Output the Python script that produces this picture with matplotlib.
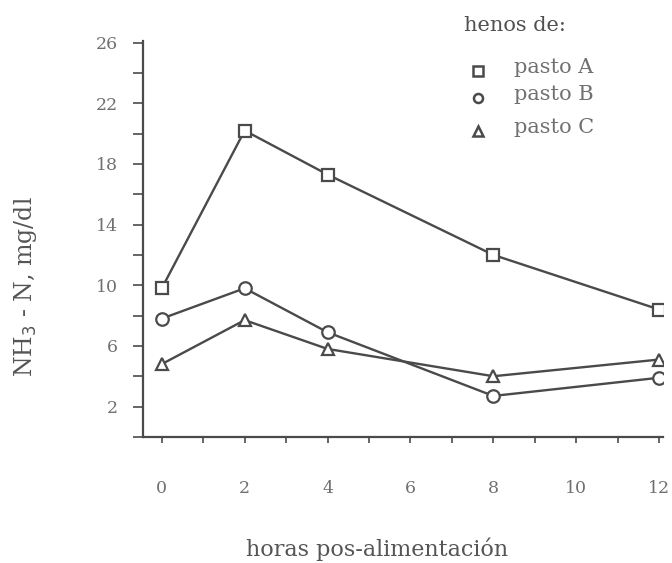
import matplotlib
matplotlib.use('Agg')
import matplotlib.pyplot as plt
from matplotlib.lines import Line2D

horas = [0, 2, 4, 8, 12]
pasto_a = [9.8, 20.2, 17.3, 12.0, 8.4]
pasto_b = [7.8, 9.8, 6.9, 2.7, 3.9]
pasto_c = [4.8, 7.7, 5.8, 4.0, 5.1]
series = [('pasto A', pasto_a, 's'), ('pasto B', pasto_b, 'o'), ('pasto C', pasto_c, '^')]

x_labels = [0, 2, 4, 6, 8, 10, 12]
y_labels = [2, 6, 10, 14, 18, 22, 26]

plt.rcParams['font.family'] = ['DejaVu Serif']
ink = '#4a4a4a'
soft = '#707070'

fig = plt.figure(figsize=(6.72, 5.63), dpi=100)
ax = fig.add_axes([0.213, 0.224, 0.774, 0.703])

for name, vals, mk in series:
    ax.plot(horas, vals, color=ink, lw=1.7, marker=mk, ms=9 if mk != '^' else 8.5,
            mfc='white', mec=ink, mew=1.6, zorder=3)

ax.set_xlim(-0.45, 12.1)
ax.set_ylim(0, 26.1)
ax.set_xticks(x_labels)
ax.set_xticks(range(0, 13), minor=True)
ax.set_yticks(y_labels)
ax.set_yticks(range(0, 27, 2), minor=True)
ax.tick_params(which='both', direction='out', color=ink, width=1.2)
ax.tick_params(axis='y', which='both', length=7, pad=11, labelsize=12.5, labelcolor=soft)
ax.tick_params(axis='x', which='both', length=4, pad=27, labelsize=12.5, labelcolor=soft)
for s in ['top', 'right']:
    ax.spines[s].set_visible(False)
for s in ['left', 'bottom']:
    ax.spines[s].set_color(ink)
    ax.spines[s].set_linewidth(1.6)

ax.set_ylabel('NH$_3$ - N, mg/dl', fontsize=17, color='#555555')
ax.yaxis.set_label_coords(-0.2, 0.38)
ax.set_xlabel('horas pos-alimentación', fontsize=16, color='#555555')
ax.xaxis.set_label_coords(0.45, -0.255)

# legend drawn by hand
fig.text(0.69, 0.955, 'henos de:', fontsize=15, color='#505050', va='center')
leg_y = [0.88, 0.832, 0.774]
for (name, vals, mk), y in zip(series, leg_y):
    fig.add_artist(Line2D([0.712], [y - 0.006], transform=fig.transFigure, marker=mk,
                          ms=6.5, mfc='white', mec=ink, mew=1.8, ls='none'))
    fig.text(0.765, y, name, fontsize=15, color=soft, va='center')

fig.savefig('out.png', dpi=100)
